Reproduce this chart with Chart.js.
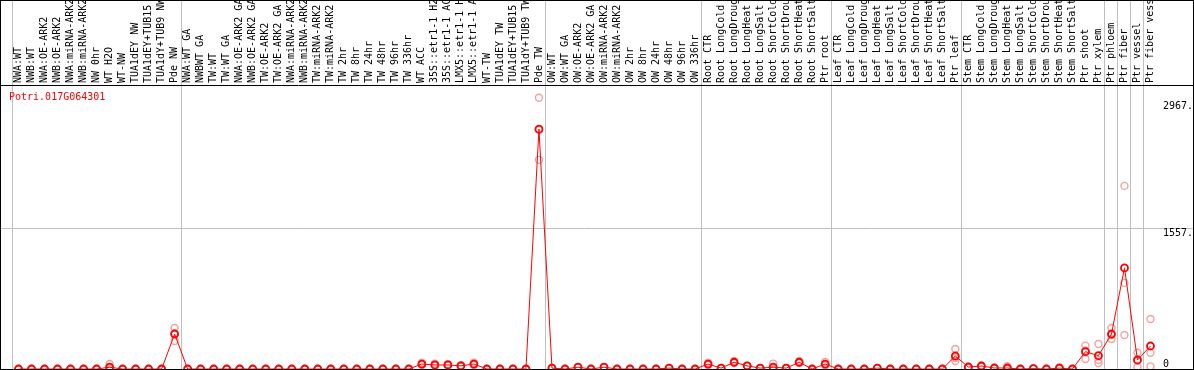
<!DOCTYPE html>
<html>
<head>
<meta charset="utf-8">
<script src="https://cdn.jsdelivr.net/npm/chart.js@4/dist/chart.umd.min.js"></script>
<style>
  html, body { margin: 0; padding: 0; background: #fff; }
  #c { display: block; }
</style>
</head>
<body>
<canvas id="c" width="1194" height="370"></canvas>
<script>
// Expression profile of one poplar gene across 88 samples.

const geneId = 'Potri.017G064301';

const samples = [
  'NWA:WT', 'NWB:WT', 'NWA:OE-ARK2', 'NWB:OE-ARK2', 'NWA:miRNA-ARK2', 'NWB:miRNA-ARK2',
  'NW 0hr', 'WT H2O', 'WT-NW', 'TUA1dEY NW', 'TUA1dEY+TUB15', 'TUA1dY+TUB9 NW', 'Pde NW',
  'NWA:WT GA', 'NWBWT GA', 'TW:WT', 'TW:WT GA', 'NWA:OE-ARK2 GA', 'NWB:OE-ARK2 GA',
  'TW:OE-ARK2', 'TW:OE-ARK2 GA', 'NWA:miRNA-ARK2', 'NWB:miRNA-ARK2', 'TW:miRNA-ARK2',
  'TW:miRNA-ARK2', 'TW 2hr', 'TW 8hr', 'TW 24hr', 'TW 48hr', 'TW 96hr', 'TW 336hr',
  'WT ACC', '35S::etr1-1 H2', '35S::etr1-1 AC', 'LMX5::etr1-1 H', 'LMX5::etr1-1 A',
  'WT-TW', 'TUA1dEY TW', 'TUA1dEY+TUB15', 'TUA1dY+TUB9 TW', 'Pde TW',
  'OW:WT', 'OW:WT GA', 'OW:OE-ARK2', 'OW:OE-ARK2 GA', 'OW:miRNA-ARK2', 'OW:miRNA-ARK2',
  'OW 2hr', 'OW 8hr', 'OW 24hr', 'OW 48hr', 'OW 96hr', 'OW 336hr',
  'Root CTR', 'Root LongCold', 'Root LongDroug', 'Root LongHeat', 'Root LongSalt',
  'Root ShortCold', 'Root ShortDrou', 'Root ShortHeat', 'Root ShortSalt', 'Ptr root',
  'Leaf CTR', 'Leaf LongCold', 'Leaf LongDroug', 'Leaf LongHeat', 'Leaf LongSalt',
  'Leaf ShortCold', 'Leaf ShortDrou', 'Leaf ShortHeat', 'Leaf ShortSalt', 'Ptr leaf',
  'Stem CTR', 'Stem LongCold', 'Stem LongDroug', 'Stem LongHeat', 'Stem LongSalt',
  'Stem ShortCold', 'Stem ShortDrou', 'Stem ShortHeat', 'Stem ShortSalt',
  'Ptr shoot', 'Ptr xylem', 'Ptr phloem', 'Ptr fiber', 'Ptr vessel', 'Ptr fiber vess'
];

// mean of replicates
const meanExpr = [
  0, 0, 0, 0, 0, 0, 0, 20, 0, 0, 0, 0, 388,
  0, 0, 0, 0, 0, 0, 0, 0, 0, 0, 0, 0, 0, 0, 0, 0, 0, 0,
  55, 45, 45, 35, 55, 0, 0, 0, 0, 2660,
  10, 0, 20, 0, 20, 0, 0, 0, 0, 10, 0, 0,
  55, 10, 75, 35, 10, 20, 10, 75, 0, 55,
  0, 0, 0, 10, 0, 0, 0, 0, 0, 144,
  22, 33, 11, 11, 0, 5, 0, 10, 0,
  192, 148, 388, 1121, 100, 255
];

// individual replicates
const rep1 = [
  0, 0, 0, 0, 0, 0, 0, 55, 0, 0, 0, 0, 455,
  0, 0, 0, 0, 0, 0, 0, 0, 0, 0, 0, 0, 0, 0, 0, 0, 0, 0,
  70, 60, 55, 45, 70, 0, 0, 0, 0, 3008,
  10, 0, 20, 0, 20, 0, 0, 0, 0, 10, 0, 0,
  70, 10, 90, 35, 10, 60, 10, 90, 0, 77,
  0, 0, 0, 10, 0, 0, 0, 0, 0, 222,
  22, 40, 11, 30, 0, 5, 0, 20, 0,
  259, 277, 455, 2031, 181, 555
];
const rep2 = [
  0, 0, 0, 0, 0, 0, 0, 5, 0, 0, 0, 0, 311,
  0, 0, 0, 0, 0, 0, 0, 0, 0, 0, 0, 0, 0, 0, 0, 0, 0, 0,
  45, 35, 40, 30, 45, 0, 0, 0, 0, 2320,
  10, 0, 20, 0, 20, 0, 0, 0, 0, 10, 0, 0,
  50, 10, 70, 35, 10, 5, 10, 70, 0, 50,
  0, 0, 0, 10, 0, 0, 0, 0, 0, 89,
  22, 30, 11, 0, 0, 5, 0, 5, 0,
  111, 100, 333, 955, 22, 181
];
const rep3 = [
  0, 0, 0, 0, 0, 0, 0, 0, 0, 0, 0, 0, 398,
  0, 0, 0, 0, 0, 0, 0, 0, 0, 0, 0, 0, 0, 0, 0, 0, 0, 0,
  50, 40, 40, 30, 50, 0, 0, 0, 0, 2652,
  10, 0, 20, 0, 20, 0, 0, 0, 0, 10, 0, 0,
  45, 10, 65, 35, 10, 0, 10, 65, 0, 38,
  0, 0, 0, 10, 0, 0, 0, 0, 0, 121,
  22, 29, 11, 3, 0, 5, 0, 5, 0,
  206, 67, 376, 377, 97, 29
];

// category index where a new sample group starts (grey separators)
const groupStarts = [0, 13, 41, 53, 63, 73, 84, 85, 86, 87, 88];
const yTicks = [0, 1557, 2967];
const yMax = 3150;

const MONO = '"DejaVu Sans Mono", "Liberation Mono", monospace';
const GRID = '#c0c0c0';
const NONE = 'rgba(0,0,0,0)';

function repSet(data, name) {
  return {
    label: name, data, showLine: false, order: 2,
    pointRadius: 3.5, pointBorderWidth: 1.4,
    pointBorderColor: '#f4a0a0', pointBackgroundColor: NONE,
  };
}

// outer frame, the rule under the labels, and the gene id
const framePlugin = {
  id: 'frame',
  afterDraw(chart) {
    const c = chart.ctx;
    const top = chart.chartArea.top;
    c.save();
    c.strokeStyle = '#000';
    c.lineWidth = 1;
    c.strokeRect(0.5, 0.5, chart.width - 1, chart.height - 1);
    c.beginPath();
    c.moveTo(0, top + 0.5);
    c.lineTo(chart.width, top + 0.5);
    c.stroke();
    c.fillStyle = '#ff0000';
    c.font = '10px ' + MONO;
    c.textBaseline = 'middle';
    c.fillText(geneId, 9, top + 12);
    c.restore();
  }
};

const yGrid = ctx => (ctx.tick && ctx.tick.value === 1557) ? GRID : NONE;
const noPad = s => { s.paddingTop = 0; s.paddingBottom = 0; };

new Chart(document.getElementById('c'), {
  type: 'line',
  data: {
    labels: samples,
    datasets: [
      {
        label: 'mean', data: meanExpr, order: 1,
        borderColor: '#ff0000', borderWidth: 1, tension: 0,
        pointRadius: 3.5, pointBorderWidth: 1.8,
        pointBorderColor: '#ff0000', pointBackgroundColor: NONE,
      },
      repSet(rep1, 'rep1'),
      repSet(rep2, 'rep2'),
      repSet(rep3, 'rep3'),
    ],
  },
  options: {
    responsive: false,
    animation: false,
    devicePixelRatio: 1,
    layout: { autoPadding: false, padding: { left: 1, right: 0, top: 0, bottom: 1 } },
    plugins: { legend: { display: false }, tooltip: { enabled: false } },
    scales: {
      x: {
        position: 'top',
        offset: true,
        afterFit: s => { s.height = 85; },
        grid: {
          offset: true,
          color: ctx => groupStarts.includes(ctx.index) ? GRID : NONE,
          tickLength: 85,
          lineWidth: 1,
        },
        border: { display: false },
        ticks: {
          autoSkip: false, minRotation: 90, maxRotation: 90,
          padding: -83, labelOffset: 12, color: '#000',
          font: { family: MONO, size: 10 },
        },
      },
      y: {
        position: 'right',
        min: 0, max: yMax,
        afterBuildTicks: s => { s.ticks = yTicks.map(v => ({ value: v })); },
        afterFit: s => { s.width = 37; noPad(s); },
        grid: { color: yGrid, tickLength: 37 },
        border: { display: false },
        ticks: {
          padding: -31, color: '#000',
          font: { family: MONO, size: 10, lineHeight: 1 },
          callback: v => v === 0 ? ['0', ''] : ['', v + '.'],
        },
      },
      yLeft: {
        position: 'left',
        min: 0, max: yMax,
        afterBuildTicks: s => { s.ticks = yTicks.map(v => ({ value: v })); },
        afterFit: s => { s.width = 11; noPad(s); },
        grid: { color: yGrid, tickLength: 11, drawOnChartArea: false },
        border: { display: false },
        ticks: { display: false },
      },
    },
  },
  plugins: [framePlugin],
});
</script>
</body>
</html>
